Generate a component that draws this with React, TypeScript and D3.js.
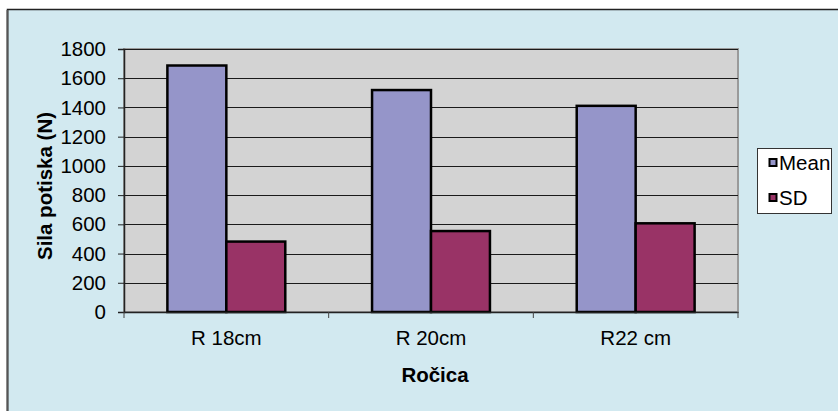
import * as d3 from "d3"
import React, { useEffect, useRef } from "react"

// chart data
const categories = ["R 18cm", "R 20cm", "R22 cm"]
const seriesNames = ["Mean", "SD"]
const meanValues = [1687, 1519, 1411]
const sdValues = [482, 554, 607]
const yTicks = [0, 200, 400, 600, 800, 1000, 1200, 1400, 1600, 1800]

const colours = { Mean: "#9595c9", SD: "#993366" }

const W = 838, H = 411
const plot = { left: 124, top: 49, right: 738, bottom: 312 }
const font = "'Liberation Sans', Arial, sans-serif"
const fs = 20.5

export default function App() {
  const ref = useRef<SVGSVGElement>(null)

  useEffect(() => {
    const svg = d3.select(ref.current)
    svg.selectAll("*").remove()

    // outer chart frame
    svg.append("rect")
      .attr("x", 7.5).attr("y", 9.5)
      .attr("width", 900).attr("height", 500)
      .attr("fill", "#d2e9f0")
      .attr("stroke", "#222").attr("stroke-width", 1.5)
    svg.append("line")
      .attr("x1", 7.5).attr("x2", 7.5).attr("y1", 10).attr("y2", H)
      .attr("stroke", "#555").attr("stroke-width", 2)

    const xScale = d3.scaleBand<string>()
      .domain(categories)
      .range([plot.left, plot.right])
      .padding(0)

    const bw = xScale.bandwidth()
    const xInner = d3.scaleBand<string>()
      .domain(seriesNames)
      .range([bw * 0.212, bw * 0.788])
      .padding(0)

    const yScale = d3.scaleLinear()
      .domain([0, 1800])
      .range([plot.bottom, plot.top])

    // plot area
    svg.append("rect")
      .attr("x", plot.left).attr("y", plot.top)
      .attr("width", plot.right - plot.left).attr("height", plot.bottom - plot.top)
      .attr("fill", "#d3d3d3")
      .attr("stroke", "#9a9a9a").attr("stroke-width", 2)

    // gridlines
    svg.append("g")
      .selectAll("line")
      .data(yTicks.filter(t => t > 0))
      .enter()
      .append("line")
      .attr("x1", plot.left).attr("x2", plot.right)
      .attr("y1", d => Math.round(yScale(d)) + 0.5)
      .attr("y2", d => Math.round(yScale(d)) + 0.5)
      .attr("stroke", "#1a1a1a").attr("stroke-width", 1)

    // bars
    const rows = categories.map((c, i) => ({ cat: c, vals: [
      { key: "Mean", v: meanValues[i] },
      { key: "SD", v: sdValues[i] }
    ] }))

    svg.append("g")
      .selectAll("g")
      .data(rows)
      .enter()
      .append("g")
      .attr("transform", d => "translate(" + xScale(d.cat) + ",0)")
      .selectAll("rect")
      .data(d => d.vals)
      .enter()
      .append("rect")
      .attr("x", d => xInner(d.key)!)
      .attr("width", xInner.bandwidth())
      .attr("y", d => yScale(d.v))
      .attr("height", d => yScale(0) - yScale(d.v))
      .attr("fill", d => (colours as any)[d.key])
      .attr("stroke", "#000").attr("stroke-width", 2.5)

    // y axis
    const yAxis = d3.axisLeft(yScale).tickValues(yTicks).tickSize(6).tickFormat(d3.format("d"))
    const gy = svg.append("g")
      .attr("transform", "translate(" + plot.left + ",0)")
      .call(yAxis)
    gy.select(".domain").attr("stroke", "#222").attr("stroke-width", 1.5)
    gy.selectAll(".tick line").attr("stroke", "#222")
    gy.selectAll(".tick text")
      .attr("font-family", font).attr("font-size", fs).attr("fill", "#000")
      .attr("x", -18)

    // x axis
    const xAxis = d3.axisBottom(xScale).tickSize(0).tickPadding(18)
    const gx = svg.append("g")
      .attr("transform", "translate(0," + plot.bottom + ")")
      .call(xAxis)
    gx.select(".domain").attr("stroke", "#222").attr("stroke-width", 1.5)
    gx.selectAll(".tick text")
      .attr("font-family", font).attr("font-size", fs).attr("fill", "#000")
    // category boundary ticks
    gx.selectAll(".bound")
      .data([...categories.map(c => xScale(c)!), plot.right])
      .enter()
      .append("line")
      .attr("x1", d => d).attr("x2", d => d)
      .attr("y1", 0).attr("y2", 6)
      .attr("stroke", "#444")

    // axis titles
    svg.append("text")
      .attr("x", (plot.left + plot.right) / 2 + 4).attr("y", 382)
      .attr("text-anchor", "middle")
      .attr("font-family", font).attr("font-size", fs).attr("font-weight", "bold")
      .text("Ročica")
    svg.append("text")
      .attr("transform", "translate(52,186) rotate(-90)")
      .attr("text-anchor", "middle")
      .attr("font-family", font).attr("font-size", fs).attr("font-weight", "bold")
      .text("Sila potiska (N)")

    // legend
    const lg = svg.append("g")
    lg.append("rect")
      .attr("x", 757.5).attr("y", 148.5).attr("width", 74).attr("height", 65)
      .attr("fill", "#fff").attr("stroke", "#333").attr("stroke-width", 1)
    seriesNames.forEach((s, i) => {
      const cy = 163 + i * 35
      lg.append("rect")
        .attr("x", 769.5).attr("y", cy - 4).attr("width", 7).attr("height", 7)
        .attr("fill", (colours as any)[s]).attr("stroke", "#000").attr("stroke-width", 2)
      lg.append("text")
        .attr("x", 779).attr("y", cy + 7)
        .attr("font-family", font).attr("font-size", fs)
        .text(s)
    })
  }, [])

  return (
    <svg ref={ref} width={W} height={H}
      style={{ position: "absolute", left: 0, top: 0, display: "block" }} />
  )
}
